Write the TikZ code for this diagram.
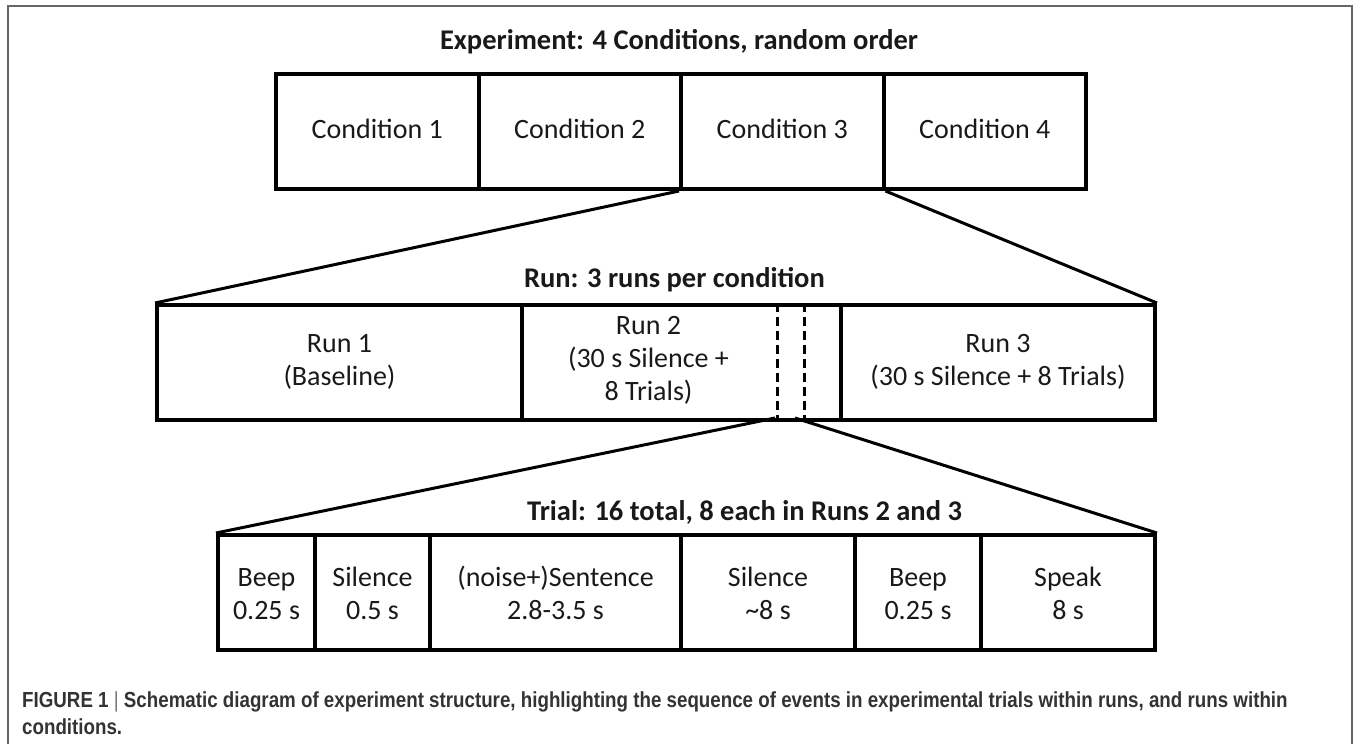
\documentclass[tikz,border=0pt]{standalone}
\usepackage{fontspec}
\setmainfont{Carlito}
\newfontfamily\capfont[FakeStretch=0.86]{Liberation Sans}
\newcommand\tallstrut{\rule{0pt}{31pt}}
\begin{document}
\begin{tikzpicture}[x=1pt,y=-1pt,
  cell/.style={draw=black, line width=4pt, anchor=north west, inner sep=0pt, align=center,
    font=\fontsize{28}{33}\selectfont, text=black!90},
  ttl/.style={font=\fontsize{28.5}{33}\selectfont\bfseries, inner sep=0pt, text=black!90},
  conn/.style={line width=3pt},
  dsh/.style={line width=3pt, dash pattern=on 9pt off 5pt},
  captxt/.style={font=\capfont\bfseries\fontsize{21.8}{27.5}\selectfont, text=black!80, inner sep=0pt, align=left, anchor=north west}
]
\useasboundingbox (0,0) rectangle (1357,744);
\draw[line width=1.5pt, draw=black!60] (8,770) -- (8,6) -- (1352,6) -- (1352,770);

% titles
\node[ttl] (exp) at (679,42) {Experiment: 4 Conditions, random order};
\node[ttl, anchor=east] (runttl) at (825,280) {Run: 3 runs per condition};
\node[ttl, anchor=east] (trialttl) at (962,512) {Trial: 16 total, 8 each in Runs 2 and 3};

% conditions
\node[cell, minimum width=202.5pt, minimum height=115pt] (c1) at (274,72) {\strut Condition 1};
\node[cell, minimum width=202.5pt, minimum height=115pt] (c2) at (476.5,72) {\strut Condition 2};
\node[cell, minimum width=202.5pt, minimum height=115pt] (c3) at (679,72) {\strut Condition 3};
\node[cell, minimum width=202.5pt, minimum height=115pt] (c4) at (881.5,72) {\strut Condition 4};

% runs
\node[cell, minimum width=365pt, minimum height=115pt] (r1) at (155,303) {\strut Run 1\\\strut (Baseline)};
\node[cell, minimum width=319pt, minimum height=115pt] (r2) at (520,303) {};
\node[cell, minimum width=314pt, minimum height=115pt] (r3) at (839,303) {\strut Run 3\\\strut (30 s Silence + 8 Trials)};
\node[cell, draw=none, anchor=center] (r2t) at (648.5,360.5) {\strut Run 2\\\strut (30 s Silence +\\\strut 8 Trials)};
\coordinate (dat) at (777,303); \coordinate (dab) at (777,418);
\coordinate (dbt) at (804,303); \coordinate (dbb) at (804,418);
\draw[dsh] (dat) -- (dab);
\draw[dsh] (dbt) -- (dbb);

% trials
\node[cell, minimum width=97pt, minimum height=115pt] (t1) at (216,533) {\tallstrut Beep\\\strut 0.25 s};
\node[cell, minimum width=115pt, minimum height=115pt] (t2) at (313,533) {\tallstrut Silence\\\strut 0.5 s};
\node[cell, minimum width=251pt, minimum height=115pt] (t3) at (428,533) {\tallstrut (noise+)Sentence\\\strut 2.8-3.5 s};
\node[cell, minimum width=174pt, minimum height=115pt] (t4) at (679,533) {\tallstrut Silence\\\strut\textasciitilde 8 s};
\node[cell, minimum width=126pt, minimum height=115pt] (t5) at (853,533) {\tallstrut Beep\\\strut 0.25 s};
\node[cell, minimum width=174pt, minimum height=115pt] (t6) at (979,533) {\tallstrut Speak\\\strut 8 s};

% connectors
\coordinate (za) at (775,418);
\coordinate (zb) at (795,418);
\draw[conn] (c3.south west) -- (r1.north west);
\draw[conn] (c3.south east) -- (r3.north east);
\draw[conn] (za) -- (t1.north west);
\draw[conn] (zb) -- (t6.north east);

% caption
\node[captxt] (caption) at (22,691) {FIGURE 1 {\mdseries\textcolor{black!55}{|}} Schematic diagram of experiment structure, highlighting the sequence of events in experimental trials within runs, and runs within\\conditions.};
\end{tikzpicture}
\end{document}
